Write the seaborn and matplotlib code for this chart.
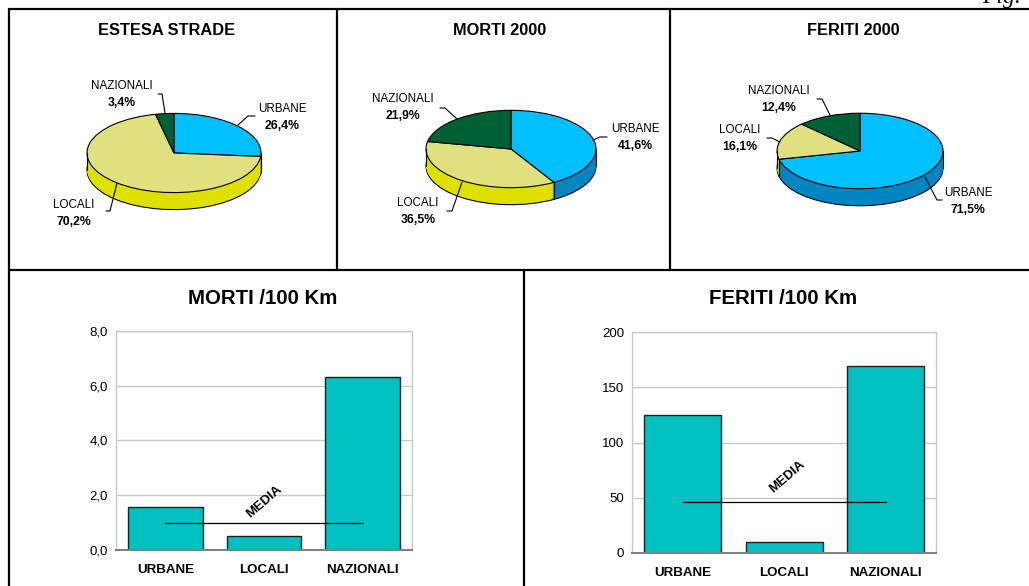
import numpy as np
import matplotlib
matplotlib.use('Agg')
import matplotlib.pyplot as plt
import seaborn as sns
from matplotlib import font_manager
from matplotlib.lines import Line2D

# dati
pie_labels = ['URBANE', 'LOCALI', 'NAZIONALI']
estesa_strade = [26.4, 70.2, 3.4]
morti_2000 = [41.6, 36.5, 21.9]
feriti_2000 = [71.5, 16.1, 12.4]

bar_categories = ['URBANE', 'LOCALI', 'NAZIONALI']
morti_100km = [1.55, 0.49, 6.31]
feriti_100km = [125, 10, 169]
morti_media = 0.98
feriti_media = 46
morti_ticks = [0, 2, 4, 6, 8]
feriti_ticks = [0, 50, 100, 150, 200]

top_colors = ['#00BFFF', '#E0E080', '#006035']
side_colors = ['#0085C0', '#E0E000', '#004025']
bar_color = '#00C0C0'

sns.set_theme(style='white')
names = {f.name for f in font_manager.fontManager.ttflist}
narrow = 'Liberation Sans Narrow' if 'Liberation Sans Narrow' in names else 'Liberation Sans'
k = 1.0 if narrow == 'Liberation Sans Narrow' else 0.84
plt.rcParams['font.family'] = [narrow, 'DejaVu Sans']
plt.rcParams['text.color'] = 'black'
plt.rcParams['xtick.color'] = 'black'
plt.rcParams['ytick.color'] = 'black'

W, H = 1029, 586
s = 0.455  # schiacciamento delle torte
fig = plt.figure(figsize=(W / 100, H / 100), dpi=100)
fig.patch.set_facecolor('white')


def fig_line(x0, y0, x1, y1):
    fig.add_artist(Line2D([x0 / W, x1 / W], [1 - y0 / H, 1 - y1 / H],
                          transform=fig.transFigure, color='black', lw=1.6))


# cornici
fig_line(9, 9, W, 9)
fig_line(9, 9, 9, H)
fig_line(337, 9, 337, 270)
fig_line(670, 9, 670, 270)
fig_line(9, 270, W, 270)
fig_line(524, 270, 524, H)

fig.text(1002 / W, 1 - 3 / H, 'Fig.', ha='center', va='baseline',
         family='Liberation Serif', style='italic', fontsize=17)

# torte 3D
ov = fig.add_axes([0, 0, 1, 1])


def P(x, y):
    return x, (H - y) / s


def draw_pie(values, cx, cy, r, depth, title, tx, labels):
    for d in range(depth, 0, -1):
        ov.pie(values, radius=r, center=P(cx, cy + d), colors=side_colors,
               startangle=90, counterclock=False, frame=True,
               wedgeprops=dict(edgecolor='black' if d == depth else 'none',
                               linewidth=0.8))
    # spigoli verticali del bordo
    edges = [cx - r, cx + r]
    for c in np.cumsum(values)[:-1]:
        th = np.radians(90 - 360 * c / sum(values))
        if np.sin(th) < 0:
            edges.append(cx + r * np.cos(th))
    for ex in edges:
        if ex in (cx - r, cx + r):
            ey = cy
        else:
            th = np.arccos((ex - cx) / r)
            ey = cy + r * s * np.sin(th)
        ov.plot(*zip(P(ex, ey), P(ex, ey + depth)), color='black', lw=0.8)
    ov.pie(values, radius=r, center=P(cx, cy), colors=top_colors,
           startangle=90, counterclock=False, frame=True,
           wedgeprops=dict(edgecolor='black', linewidth=0.8))
    ov.text(*P(tx, 31), title, ha='center', va='center',
            fontsize=14 * k, fontweight='bold')
    for name, val, (lx, ly), leader in zip(pie_labels, values, labels[0], labels[1]):
        ov.text(*P(lx, ly - 8), name, ha='center', va='center', fontsize=10 * k)
        ov.text(*P(lx, ly + 9), f'{val:.1f}%'.replace('.', ','), ha='center',
                va='center', fontsize=10.5 * k, fontweight='bold')
        pts = [P(px, py) for px, py in leader]
        ov.plot([p[0] for p in pts], [p[1] for p in pts], color='black', lw=0.8)


draw_pie(estesa_strade, 174, 153, 87, 17, 'ESTESA STRADE', 167,
         ([(282, 117), (74, 213), (122, 94)],
          [[(255, 116), (248, 116), (238, 125)],
           [(106, 211), (110, 211), (117, 183)],
           [(158, 94), (162, 94), (165, 113)]]))
draw_pie(morti_2000, 511, 149, 85, 17, 'MORTI 2000', 500,
         ([(635, 137), (418, 211), (403, 107)],
          [[(607, 137), (600, 137), (593, 140)],
           [(447, 211), (452, 211), (462, 182)],
           [(440, 108), (445, 108), (457, 119)]]))
draw_pie(feriti_2000, 860, 151, 83, 17, 'FERITI 2000', 853,
         ([(968, 201), (740, 138), (779, 99)],
          [[(925, 177), (937, 200), (942, 200)],
           [(767, 138), (772, 138), (780, 142)],
           [(817, 99), (822, 99), (830, 115)]]))

ov.set_aspect('auto')
ov.set_xlim(0, W)
ov.set_ylim(0, H / s)
ov.axis('off')


# istogrammi
def draw_bars(box, values, media, ticks, fmt, title, tx, media_xy):
    x0, y0, x1, y1 = box
    ax = fig.add_axes([x0 / W, 1 - y1 / H, (x1 - x0) / W, (y1 - y0) / H])
    sns.barplot(x=bar_categories, y=values, ax=ax, color=bar_color,
                saturation=1, width=0.76, edgecolor='#202020', linewidth=1)
    ax.set_xlim(-0.5, 2.5)
    ax.set_ylim(ticks[0], ticks[-1])
    ax.set_yticks(ticks)
    ax.set_yticklabels([fmt(t) for t in ticks], family='Liberation Sans',
                       fontsize=9.5)
    ax.set_xticks(range(len(bar_categories)))
    ax.set_xticklabels(bar_categories, fontweight='bold', fontsize=11.5 * k)
    ax.yaxis.grid(True, color='#C8C8C8', lw=1)
    ax.set_axisbelow(True)
    for sp in ax.spines.values():
        sp.set_visible(True)
        sp.set_color('#C8C8C8')
        sp.set_linewidth(1)
    ax.spines['bottom'].set_color('#808080')
    ax.spines['bottom'].set_linewidth(1.5)
    ax.tick_params(axis='both', length=0)
    ax.tick_params(axis='y', pad=6)
    ax.tick_params(axis='x', pad=10)
    ax.set_xlabel('')
    ax.set_ylabel('')
    ax.plot([0, 2], [media, media], color='black', lw=0.9)
    ax.text(media_xy[0], media_xy[1], 'MEDIA', rotation=41, ha='center',
            va='center', fontsize=9.5, fontweight='bold')
    fig.text(tx / W, 1 - 298 / H, title, ha='center', va='center',
             fontsize=17.5 * k, fontweight='bold')


draw_bars((116, 331, 412, 549.7), morti_100km, morti_media, morti_ticks,
          lambda t: f'{t:.1f}'.replace('.', ','), 'MORTI /100 Km', 263,
          (1.0, 1.75))
draw_bars((632.3, 332.3, 936.3, 552.7), feriti_100km, feriti_media,
          feriti_ticks, lambda t: f'{t:d}', 'FERITI /100 Km', 783,
          (1.03, 68.7))

fig.savefig('out.png', dpi=100)
